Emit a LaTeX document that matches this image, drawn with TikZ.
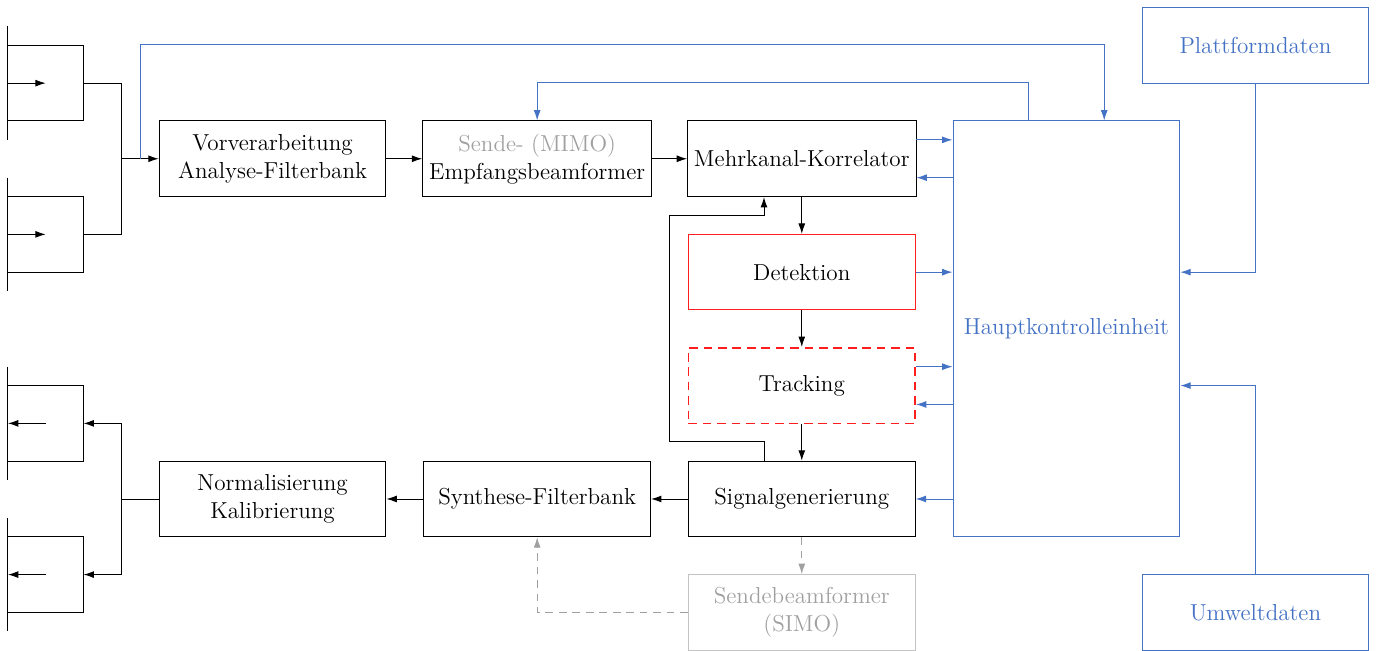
\documentclass[tikz,border=0pt]{standalone}
\usetikzlibrary{arrows.meta,calc}
\definecolor{ctrlblue}{RGB}{68,114,196}
\definecolor{offgray}{RGB}{160,160,160}
\definecolor{offline}{RGB}{195,195,195}
\definecolor{detred}{RGB}{255,30,30}
\begin{document}
\begin{tikzpicture}[x=0.69cm,y=0.69cm,>={Latex[length=5.4pt,width=3.6pt]},line width=0.5pt,
    font=\fontsize{12}{14.5}\selectfont,
    block/.style={draw,minimum width=4.14cm,minimum height=1.38cm,align=center},
    ctrl/.style={ctrlblue},
    aux/.style={offgray,dash pattern=on 4pt off 3pt}]
    \useasboundingbox (-0.21,-0.01) rectangle (36.19,17.2);

    % Wandler (Empfang oben, Senden unten)
    \foreach \y/\nm in {15/rxa,11/rxb} {
        \draw (0,\y+1.5) -- (0,\y-1.5);
        \draw (0,\y+1) -- (2,\y+1) -- (2,\y-1) -- (0,\y-1);
        \draw[->] (0,\y) -- (1,\y);
        \coordinate (\nm) at (2,\y);
    }
    \foreach \y/\nm in {6/txa,2/txb} {
        \draw (0,\y+1.5) -- (0,\y-1.5);
        \draw (0,\y+1) -- (2,\y+1) -- (2,\y-1) -- (0,\y-1);
        \draw[->] (1,\y) -- (0,\y);
        \coordinate (\nm) at (2,\y);
    }

    \node[block] (vor) at (7,13) {Vorverarbeitung\\Analyse-Filterbank};
    \node[block] (sende) at (14,13) {{\color{offgray}Sende- (MIMO)}\\Empfangsbeamformer};
    \node[block] (korr) at (21,13) {Mehrkanal-Korrelator};
    \node[block,draw=detred] (det) at (21,10) {Detektion};
    \node[block,draw=detred,line width=0.8pt,dash pattern=on 4.5pt off 3pt] (track) at (21,7) {Tracking};
    \node[block] (siggen) at (21,4) {Signalgenerierung};
    \node[block] (synth) at (14,4) {Synthese-Filterbank};
    \node[block] (norm) at (7,4) {Normalisierung\\Kalibrierung};
    \node[block,draw=offline,text=offgray] (simo) at (21,1) {Sendebeamformer\\(SIMO)};
    \node[block,ctrl,minimum height=7.59cm] (haupt) at (28,8.5) {Hauptkontrolleinheit};
    \node[block,ctrl] (platt) at (33,16) {Plattformdaten};
    \node[block,ctrl] (umwelt) at (33,1) {Umweltdaten};

    % Empfangspfad
    \coordinate (rxjoin) at (3,13);
    \coordinate (tap) at (3.5,13);
    \draw (rxa) -| (rxjoin);
    \draw (rxb) -| (rxjoin);
    \draw[->] (rxjoin) -- (vor);
    \draw[->] (vor) -- (sende);
    \draw[->] (sende) -- (korr);
    \draw[->] (korr) -- (det);
    \draw[->] (det) -- (track);
    \draw[->] (track) -- (siggen);
    \draw[->] ($(siggen.north)+(-1,0)$) -- ++(0,0.5) -| (17.5,11.5) -| ($(korr.south)+(-1,0)$);

    % Sendepfad
    \coordinate (txjoin) at (3,4);
    \draw[->] (siggen) -- (synth);
    \draw[->] (synth) -- (norm);
    \draw (norm) -- (txjoin);
    \draw[->] (txjoin) |- (txa);
    \draw[->] (txjoin) |- (txb);
    \draw[aux,->] (siggen) -- (simo);
    \draw[aux,->] (simo) -| (synth);

    % Steuerung
    \draw[ctrl,->] (tap) |- ($(haupt.north)+(1,2)$) -- ($(haupt.north)+(1,0)$);
    \draw[ctrl,->] ($(haupt.north)+(-1,0)$) |- ($(sende.north)+(0,1)$) -- (sende);
    \draw[ctrl,->] ($(korr.east)+(0,0.5)$) coordinate (a) -- (a -| haupt.west);
    \draw[ctrl,<-] ($(korr.east)+(0,-0.5)$) coordinate (a) -- (a -| haupt.west);
    \draw[ctrl,->] (det) -- (det -| haupt.west);
    \draw[ctrl,->] ($(track.east)+(0,0.5)$) coordinate (a) -- (a -| haupt.west);
    \draw[ctrl,<-] ($(track.east)+(0,-0.5)$) coordinate (a) -- (a -| haupt.west);
    \draw[ctrl,<-] (siggen) -- (siggen -| haupt.west);
    \draw[ctrl,->] (platt) |- (haupt.east |- det);
    \draw[ctrl,->] (umwelt) |- (haupt.east |- track);
\end{tikzpicture}
\end{document}
